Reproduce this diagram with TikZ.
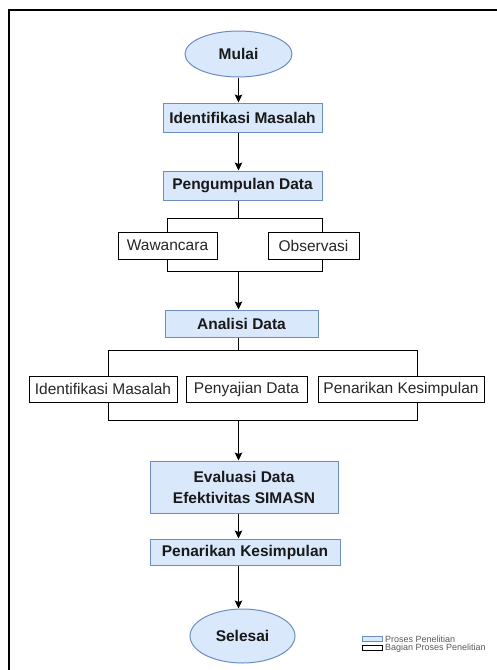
\documentclass[tikz,border=0pt]{standalone}
\usepackage{fontspec}
\setmainfont{Liberation Sans}
\usetikzlibrary{shapes.geometric}
\usetikzlibrary{arrows.meta}
\definecolor{procfill}{HTML}{DAE8FC}
\definecolor{procline}{HTML}{6C8EBF}
\tikzset{>={Stealth[length=8pt,width=7.5pt,inset=1.5pt]}}
\tikzset{proc/.style={draw=procline, fill=procfill, line width=1pt, inner sep=0pt, text=black!90, font=\fontsize{15.5}{21}\selectfont\bfseries, align=center}}
\tikzset{part/.style={draw=black, fill=white, line width=1pt, inner sep=0pt, text=black!85, font=\fontsize{15.5}{19}\selectfont}}
\tikzset{term/.style={proc, ellipse}}
\tikzset{conn/.style={line width=1pt}}
\tikzset{lgtext/.style={anchor=west, inner xsep=2.5pt, inner ysep=0pt, text=black!65, font=\fontsize{9}{10}\selectfont}}

\begin{document}
\begin{tikzpicture}[x=1pt,y=-1pt]
\useasboundingbox (0,0) rectangle (497,670);
\draw[line width=1.3pt] (9,10) rectangle (540,700);

% brackets behind the part boxes
\coordinate (b1a) at (167,218);
\coordinate (b1b) at (322,271);
\coordinate (b2a) at (108,350);
\coordinate (b2b) at (417,420);
\draw[conn] (b1a) rectangle (b1b);
\draw[conn] (b2a) rectangle (b2b);

\node[term, minimum width=107, minimum height=46] (mulai) at (238.5,54) {Mulai};
\node[proc, minimum width=159, minimum height=29] (im) at (242.5,117.5) {Identifikasi Masalah};
\node[proc, minimum width=159, minimum height=29] (pd) at (242.5,185.5) {Pengumpulan Data};
\node[part, minimum width=99, minimum height=27] (waw) at (167.5,245.5) {Wawancara};
\node[part, minimum width=91, minimum height=27] (obs) at (313.5,245.5) {Observasi};
\node[proc, minimum width=153, minimum height=27] (ad) at (241.5,323.5) {Analisi Data};
\node[part, minimum width=148, minimum height=26] (im2) at (103,389) {Identifikasi Masalah};
\node[part, minimum width=121, minimum height=26] (pyd) at (246.5,389) {Penyajian Data};
\node[part, minimum width=166, minimum height=26] (pk2) at (401,389) {Penarikan Kesimpulan};
\node[proc, minimum width=188, minimum height=52] (ev) at (244,487) {Evaluasi Data\\Efektivitas SIMASN};
\node[proc, minimum width=190, minimum height=26] (pk) at (245,552) {Penarikan Kesimpulan};
\node[term, minimum width=105, minimum height=54] (selesai) at (242.5,636) {Selesai};

\draw[conn,->] (mulai) -- (mulai |- im.north);
\draw[conn,->] (im.south -| mulai) -- (pd.north -| mulai);
\draw[conn] (pd.south -| mulai) -- (b1a -| mulai);
\draw[conn,->] (b1b -| mulai) -- (ad.north -| mulai);
\draw[conn] (ad.south -| mulai) -- (b2a -| mulai);
\draw[conn,->] (b2b -| mulai) -- (ev.north -| mulai);
\draw[conn,->] (ev.south -| mulai) -- (pk.north -| mulai);
\draw[conn,->] (pk.south -| mulai) -- (selesai.north -| mulai);

% legend
\node[proc, line width=0.8pt, minimum width=20, minimum height=5] (lgp) at (372,639) {};
\node[part, line width=0.8pt, minimum width=20, minimum height=5] (lgb) at (372,648) {};
\node[lgtext] (lgpt) at (lgp.east) {Proses Penelitian};
\node[lgtext] (lgbt) at (lgb.east) {Bagian Proses Penelitian};
\end{tikzpicture}
\end{document}
